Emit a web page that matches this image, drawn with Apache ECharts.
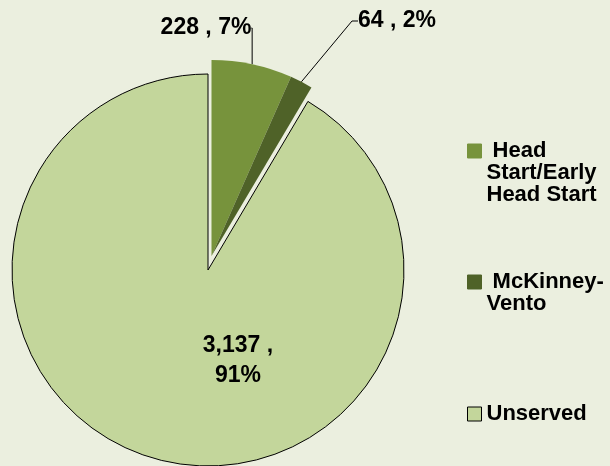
<!DOCTYPE html>
<html>
<head>
<meta charset="utf-8">
<script src="https://cdn.jsdelivr.net/npm/echarts@6/dist/echarts.min.js"></script>
<style>
  html, body { margin: 0; padding: 0; background: #EBEFDF; }
  #main { width: 610px; height: 466px; }
</style>
</head>
<body>
<div id="main"></div>
<script>
var names = ['Head Start/Early Head Start', 'McKinney-Vento', 'Unserved'];
var values = [228, 64, 3137];
var colors = ['#77933C', '#4F6228', '#C3D69B'];
var legendLines = [[' Head', 'Start/Early', 'Head Start'], [' McKinney-', 'Vento'], ['Unserved']];

var myChart = echarts.init(document.getElementById('main'));

var FONT = 'Liberation Sans';
var LH = 22;

function fmt(p) {
  return p.value.toLocaleString('en-US') + ' , ' + Math.round(p.percent) + '%';
}

// exploded group: head start + mckinney, unserved is a hidden placeholder
var explodedData = names.map(function (n, i) {
  var d = { name: n, value: values[i], itemStyle: { color: colors[i] } };
  if (i == 2) {
    d.itemStyle = { color: 'rgba(0,0,0,0)' };
    d.label = { show: false };
    d.labelLine = { show: false };
    d.emphasis = { disabled: true };
  }
  return d;
});

// base pie: only unserved visible
var baseData = names.map(function (n, i) {
  var d = { name: n, value: values[i], itemStyle: { color: colors[i], borderColor: '#000', borderWidth: 1 } };
  if (i < 2) {
    d.itemStyle = { color: 'rgba(0,0,0,0)', borderWidth: 0 };
    d.label = { show: false };
    d.emphasis = { disabled: true };
  }
  return d;
});

// label spots
var labelPos = {
  '0_2': [238, 361],
  '1_0': [206, 28],
  '1_1': [397, 21]
};

// one legend per item so the icon sits beside the first text line
function makeLegend(i, iconY) {
  var lines = legendLines[i];
  var pad = [];
  for (var k = 0; k < lines.length - 1; k++) pad.push(' ');
  var txt = pad.concat(lines).join('\n');
  var h = (2 * lines.length - 1) * LH;
  return {
    orient: 'vertical',
    left: 467,
    top: iconY - h / 2,
    padding: 0,
    icon: 'rect',
    itemWidth: 14,
    itemHeight: 14,
    itemGap: 5,
    data: [{ name: names[i], itemStyle: { color: colors[i], borderColor: i == 2 ? '#000' : colors[i], borderWidth: 1 } }],
    formatter: function () { return txt; },
    textStyle: {
      fontFamily: FONT,
      fontWeight: 'bold',
      fontSize: 22,
      lineHeight: LH,
      color: '#000'
    },
    selectedMode: false
  };
}

option = {
  backgroundColor: '#EBEFDF',
  animation: false,
  legend: [
    makeLegend(0, 151),
    makeLegend(1, 282),
    makeLegend(2, 414)
  ],
  series: [{
    type: 'pie',
    name: 'base',
    center: [208, 270],
    radius: 196,
    startAngle: 90,
    data: baseData,
    label: {
      show: true,
      position: 'inside',
      formatter: function (p) {
        return p.value.toLocaleString('en-US') + ' ,\n' + Math.round(p.percent) + '%';
      },
      fontFamily: FONT,
      fontWeight: 'bold',
      fontSize: 23,
      lineHeight: 30,
      color: '#000'
    },
    labelLayout: function (p) {
      var pos = labelPos['0_' + p.dataIndex];
      if (!pos) return {};
      return { x: pos[0], y: pos[1], align: 'center', verticalAlign: 'middle' };
    }
  }, {
    type: 'pie',
    name: 'exploded',
    center: [211.5, 256],
    radius: 196,
    startAngle: 90,
    data: explodedData,
    label: {
      show: true,
      position: 'outside',
      formatter: fmt,
      fontFamily: FONT,
      fontWeight: 'bold',
      fontSize: 23,
      color: '#000'
    },
    labelLine: {
      show: true,
      length: 10,
      length2: 6,
      lineStyle: { color: '#000', width: 1 }
    },
    labelLayout: function (p) {
      var pos = labelPos['1_' + p.dataIndex];
      if (!pos) return {};
      return { x: pos[0], y: pos[1], align: 'center', verticalAlign: 'middle' };
    }
  }]
};

myChart.setOption(option);
</script>
</body>
</html>
